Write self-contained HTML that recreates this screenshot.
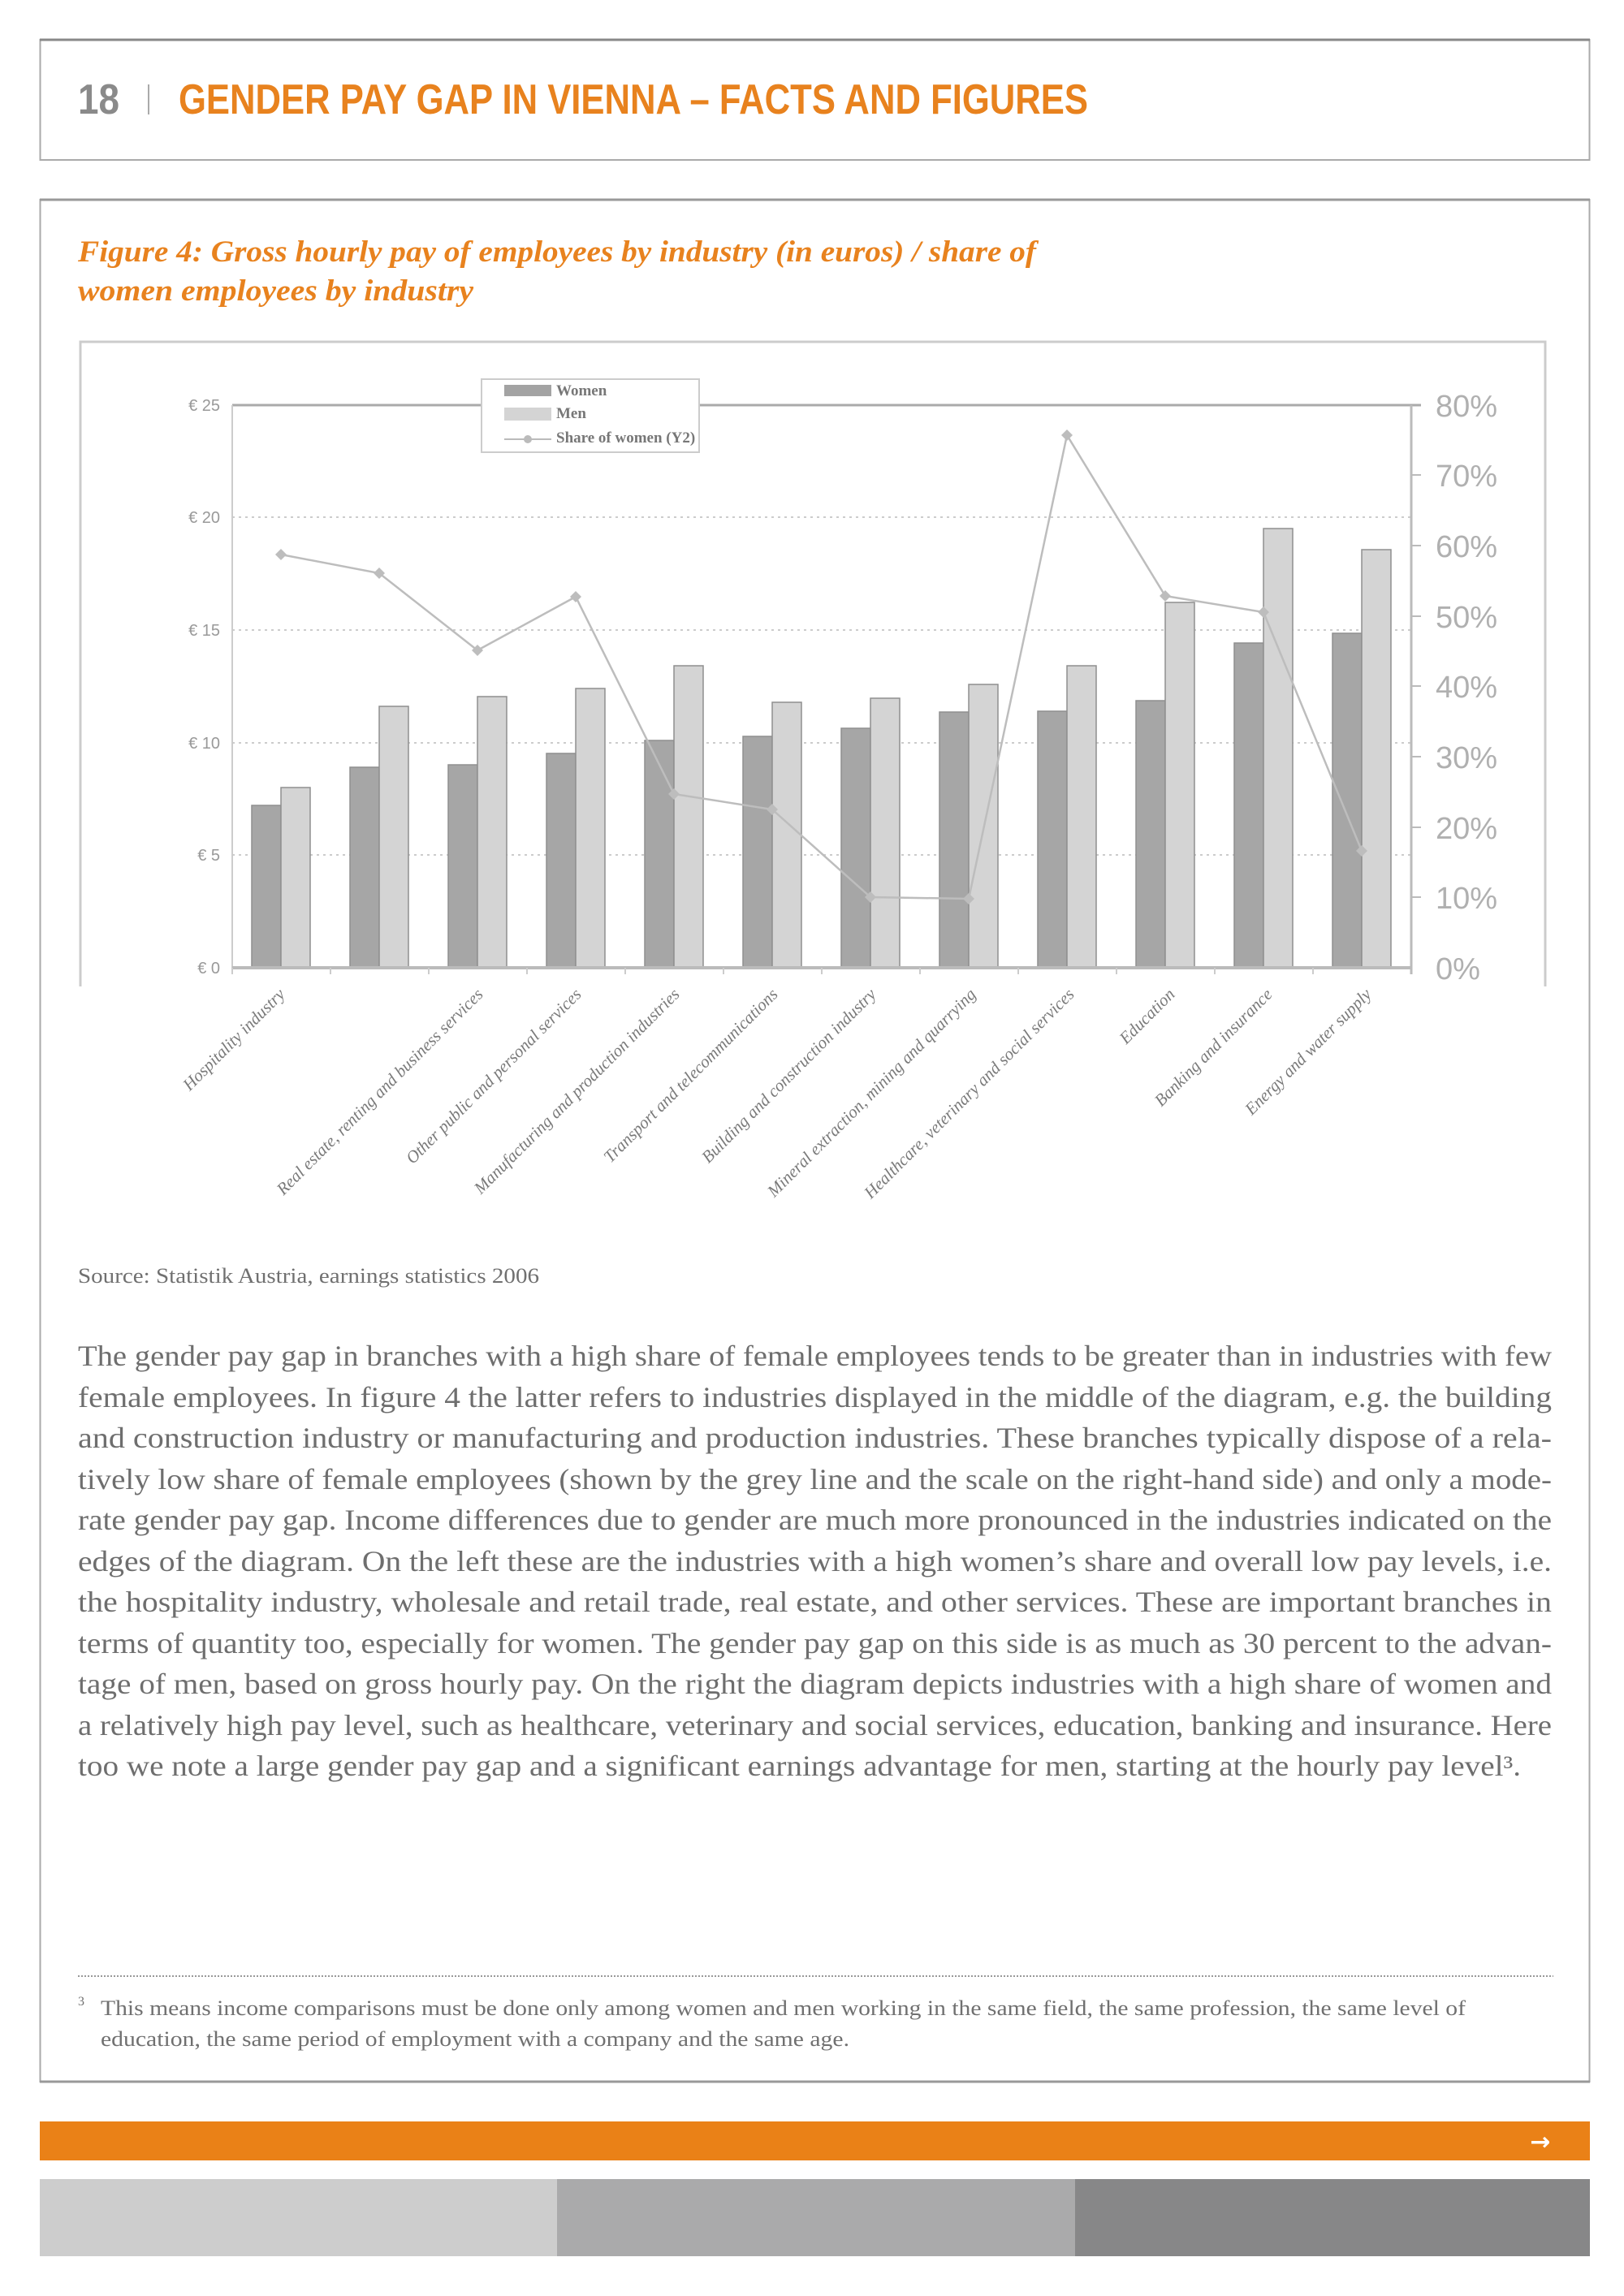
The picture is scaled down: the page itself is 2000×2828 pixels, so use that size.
<!DOCTYPE html>
<html><head><meta charset="utf-8"><style>html,body{margin:0;padding:0;background:#fff}svg{display:block}</style></head>
<body>
<svg width="2000" height="2828" viewBox="0 0 2000 2828" xmlns="http://www.w3.org/2000/svg">
<!-- header box -->
<rect x="49.5" y="49" width="1908" height="148" fill="#fff" stroke="#aaa" stroke-width="2"/>
<line x1="49" y1="49" x2="1958" y2="49" stroke="#888" stroke-width="3"/>
<text x="96" y="140" font-family="Liberation Sans Narrow, Liberation Sans, sans-serif" font-weight="bold" font-size="52" fill="#8a8a8a" textLength="51" lengthAdjust="spacingAndGlyphs">18</text>
<line x1="183" y1="104" x2="183" y2="141" stroke="#aaa" stroke-width="2"/>
<text x="220" y="140" font-family="Liberation Sans Narrow, Liberation Sans, sans-serif" font-weight="bold" font-size="52" fill="#e8821e" textLength="1120" lengthAdjust="spacingAndGlyphs">GENDER PAY GAP IN VIENNA – FACTS AND FIGURES</text>

<!-- main box -->
<rect x="49.5" y="246" width="1908" height="2318" fill="#fff" stroke="#aaa" stroke-width="2"/>
<line x1="49" y1="246" x2="1958" y2="246" stroke="#999" stroke-width="3"/>
<line x1="49" y1="2564" x2="1958" y2="2564" stroke="#999" stroke-width="3"/>

<g font-family="Liberation Serif, serif" font-style="italic" font-weight="bold" font-size="37" fill="#e8821e">
<text x="96" y="322" textLength="1180" lengthAdjust="spacingAndGlyphs">Figure 4: Gross hourly pay of employees by industry (in euros) / share of</text>
<text x="96" y="370" textLength="487" lengthAdjust="spacingAndGlyphs">women employees by industry</text>
</g>

<!-- chart frame -->
<path d="M99,1215 V421 H1903 V1215" fill="none" stroke="#ccc" stroke-width="3"/>

<!-- gridlines -->
<g stroke="#ccc" stroke-width="2" stroke-dasharray="3,5">
<line x1="286" y1="637" x2="1738" y2="637"/>
<line x1="286" y1="776" x2="1738" y2="776"/>
<line x1="286" y1="915" x2="1738" y2="915"/>
<line x1="286" y1="1053" x2="1738" y2="1053"/>
</g>
<line x1="286" y1="499" x2="1750" y2="499" stroke="#aaa" stroke-width="3"/>
<line x1="286" y1="499" x2="286" y2="1192" stroke="#ccc" stroke-width="2"/>
<line x1="1738" y1="499" x2="1738" y2="1200" stroke="#bbb" stroke-width="3"/>
<g stroke="#bbb" stroke-width="2">
<line x1="1738" y1="585" x2="1750" y2="585"/><line x1="1738" y1="672" x2="1750" y2="672"/>
<line x1="1738" y1="759" x2="1750" y2="759"/><line x1="1738" y1="845" x2="1750" y2="845"/>
<line x1="1738" y1="932" x2="1750" y2="932"/><line x1="1738" y1="1019" x2="1750" y2="1019"/>
<line x1="1738" y1="1105" x2="1750" y2="1105"/>
</g>

<!-- bars -->
<g stroke="#8f8f8f" stroke-width="1.5">
<rect x="310" y="992" width="36" height="200" fill="#a6a6a6"/><rect x="346" y="970" width="36" height="222" fill="#d4d4d4"/>
<rect x="431" y="945" width="36" height="247" fill="#a6a6a6"/><rect x="467" y="870" width="36" height="322" fill="#d4d4d4"/>
<rect x="552" y="942" width="36" height="250" fill="#a6a6a6"/><rect x="588" y="858" width="36" height="334" fill="#d4d4d4"/>
<rect x="673" y="928" width="36" height="264" fill="#a6a6a6"/><rect x="709" y="848" width="36" height="344" fill="#d4d4d4"/>
<rect x="794" y="912" width="36" height="280" fill="#a6a6a6"/><rect x="830" y="820" width="36" height="372" fill="#d4d4d4"/>
<rect x="915" y="907" width="36" height="285" fill="#a6a6a6"/><rect x="951" y="865" width="36" height="327" fill="#d4d4d4"/>
<rect x="1036" y="897" width="36" height="295" fill="#a6a6a6"/><rect x="1072" y="860" width="36" height="332" fill="#d4d4d4"/>
<rect x="1157" y="877" width="36" height="315" fill="#a6a6a6"/><rect x="1193" y="843" width="36" height="349" fill="#d4d4d4"/>
<rect x="1278" y="876" width="36" height="316" fill="#a6a6a6"/><rect x="1314" y="820" width="36" height="372" fill="#d4d4d4"/>
<rect x="1399" y="863" width="36" height="329" fill="#a6a6a6"/><rect x="1435" y="742" width="36" height="450" fill="#d4d4d4"/>
<rect x="1520" y="792" width="36" height="400" fill="#a6a6a6"/><rect x="1556" y="651" width="36" height="541" fill="#d4d4d4"/>
<rect x="1641" y="780" width="36" height="412" fill="#a6a6a6"/><rect x="1677" y="677" width="36" height="515" fill="#d4d4d4"/>
</g>
<line x1="286" y1="1192" x2="1738" y2="1192" stroke="#bbb" stroke-width="4"/>
<g stroke="#ccc" stroke-width="2">
<line x1="286" y1="1192" x2="286" y2="1200"/><line x1="407" y1="1192" x2="407" y2="1200"/><line x1="528" y1="1192" x2="528" y2="1200"/>
<line x1="649" y1="1192" x2="649" y2="1200"/><line x1="770" y1="1192" x2="770" y2="1200"/><line x1="891" y1="1192" x2="891" y2="1200"/>
<line x1="1012" y1="1192" x2="1012" y2="1200"/><line x1="1133" y1="1192" x2="1133" y2="1200"/><line x1="1254" y1="1192" x2="1254" y2="1200"/>
<line x1="1375" y1="1192" x2="1375" y2="1200"/><line x1="1496" y1="1192" x2="1496" y2="1200"/><line x1="1617" y1="1192" x2="1617" y2="1200"/>
</g>

<!-- share line -->
<polyline fill="none" stroke="#bdbdbd" stroke-width="2.5" points="346,683 467,706 588,801 709,735 830,978 951,997 1072,1105 1193,1107 1314,536 1435,734 1556,754 1677,1048"/>
<g fill="#bdbdbd">
<path d="M346,676l7,7-7,7-7-7z"/><path d="M467,699l7,7-7,7-7-7z"/><path d="M588,794l7,7-7,7-7-7z"/><path d="M709,728l7,7-7,7-7-7z"/>
<path d="M830,971l7,7-7,7-7-7z"/><path d="M951,990l7,7-7,7-7-7z"/><path d="M1072,1098l7,7-7,7-7-7z"/><path d="M1193,1100l7,7-7,7-7-7z"/>
<path d="M1314,529l7,7-7,7-7-7z"/><path d="M1435,727l7,7-7,7-7-7z"/><path d="M1556,747l7,7-7,7-7-7z"/><path d="M1677,1041l7,7-7,7-7-7z"/>
</g>

<!-- left axis labels -->
<g font-family="Liberation Sans Narrow, Liberation Sans, sans-serif" font-size="20" fill="#999" text-anchor="end">
<text x="271" y="506">€ 25</text><text x="271" y="644">€ 20</text><text x="271" y="783">€ 15</text>
<text x="271" y="922">€ 10</text><text x="271" y="1060">€ 5</text><text x="271" y="1199">€ 0</text>
</g>
<!-- right axis labels -->
<g font-family="Liberation Sans, sans-serif" font-size="38" fill="#b0b0b0">
<text x="1768" y="513">80%</text><text x="1768" y="599">70%</text><text x="1768" y="686">60%</text>
<text x="1768" y="773">50%</text><text x="1768" y="859">40%</text><text x="1768" y="946">30%</text>
<text x="1768" y="1033">20%</text><text x="1768" y="1119">10%</text><text x="1768" y="1206">0%</text>
</g>

<!-- legend -->
<rect x="593" y="467" width="268" height="90" fill="#fff" stroke="#ccc" stroke-width="2"/>
<rect x="621" y="474" width="58" height="14" fill="#a3a3a3"/>
<rect x="621" y="502" width="58" height="16" fill="#d4d4d4"/>
<line x1="621" y1="541" x2="679" y2="541" stroke="#bbb" stroke-width="2"/>
<circle cx="650" cy="541" r="5" fill="#bbb"/>
<g font-family="Liberation Serif, serif" font-weight="bold" font-size="19" fill="#777">
<text x="685" y="487">Women</text><text x="685" y="515">Men</text><text x="685" y="545">Share of women (Y2)</text>
</g>

<!-- category labels -->
<g font-family="Liberation Serif, serif" font-style="italic" font-size="21" fill="#7a7a7a" text-anchor="end">
<text transform="translate(352,1226) rotate(-45)">Hospitality industry</text>
<text transform="translate(596,1226) rotate(-45)">Real estate, renting and business services</text>
<text transform="translate(717,1226) rotate(-45)">Other public and personal services</text>
<text transform="translate(838,1226) rotate(-45)">Manufacturing and production industries</text>
<text transform="translate(959,1226) rotate(-45)">Transport and telecommunications</text>
<text transform="translate(1080,1226) rotate(-45)">Building and construction industry</text>
<text transform="translate(1203,1226) rotate(-45)">Mineral extraction, mining and quarrying</text>
<text transform="translate(1324,1226) rotate(-45)">Healthcare, veterinary and social services</text>
<text transform="translate(1448,1226) rotate(-45)">Education</text>
<text transform="translate(1568,1226) rotate(-45)">Banking and insurance</text>
<text transform="translate(1690,1226) rotate(-45)">Energy and water supply</text>
</g>

<text x="96" y="1580" font-family="Liberation Serif, serif" font-size="26" fill="#707070" textLength="568" lengthAdjust="spacingAndGlyphs">Source: Statistik Austria, earnings statistics 2006</text>

<!-- paragraph -->
<g font-family="Liberation Serif, serif" font-size="36" fill="#6e6e6e">
<text x="96" y="1682" textLength="1815" lengthAdjust="spacingAndGlyphs">The gender pay gap in branches with a high share of female employees tends to be greater than in industries with few</text>
<text x="96" y="1733" textLength="1815" lengthAdjust="spacingAndGlyphs">female employees. In figure 4 the latter refers to industries displayed in the middle of the diagram, e.g. the building</text>
<text x="96" y="1783" textLength="1815" lengthAdjust="spacingAndGlyphs">and construction industry or manufacturing and production industries. These branches typically dispose of a rela-</text>
<text x="96" y="1834" textLength="1815" lengthAdjust="spacingAndGlyphs">tively low share of female employees (shown by the grey line and the scale on the right-hand side) and only a mode-</text>
<text x="96" y="1884" textLength="1815" lengthAdjust="spacingAndGlyphs">rate gender pay gap. Income differences due to gender are much more pronounced in the industries indicated on the</text>
<text x="96" y="1935" textLength="1815" lengthAdjust="spacingAndGlyphs">edges of the diagram. On the left these are the industries with a high women’s share and overall low pay levels, i.e.</text>
<text x="96" y="1985" textLength="1815" lengthAdjust="spacingAndGlyphs">the hospitality industry, wholesale and retail trade, real estate, and other services. These are important branches in</text>
<text x="96" y="2036" textLength="1815" lengthAdjust="spacingAndGlyphs">terms of quantity too, especially for women. The gender pay gap on this side is as much as 30 percent to the advan-</text>
<text x="96" y="2086" textLength="1815" lengthAdjust="spacingAndGlyphs">tage of men, based on gross hourly pay. On the right the diagram depicts industries with a high share of women and</text>
<text x="96" y="2137" textLength="1815" lengthAdjust="spacingAndGlyphs">a relatively high pay level, such as healthcare, veterinary and social services, education, banking and insurance. Here</text>
<text x="96" y="2187" textLength="1777" lengthAdjust="spacingAndGlyphs">too we note a large gender pay gap and a significant earnings advantage for men, starting at the hourly pay level³.</text>
</g>

<!-- footnote -->
<line x1="96" y1="2434" x2="1913" y2="2434" stroke="#999" stroke-width="2" stroke-dasharray="2,2"/>
<g font-family="Liberation Serif, serif" font-size="26" fill="#707070">
<text x="96" y="2470" font-size="16">3</text>
<text x="124" y="2482" textLength="1681" lengthAdjust="spacingAndGlyphs">This means income comparisons must be done only among women and men working in the same field, the same profession, the same level of</text>
<text x="124" y="2520" textLength="922" lengthAdjust="spacingAndGlyphs">education, the same period of employment with a company and the same age.</text>
</g>

<!-- bottom bars -->
<rect x="49" y="2613" width="1909" height="48" fill="#ea8117"/>
<text x="1897" y="2648" font-family="DejaVu Sans, sans-serif" font-weight="bold" font-size="30" fill="#fff" text-anchor="middle">→</text>
<rect x="49" y="2684" width="637" height="95" fill="#cdcdcd"/>
<rect x="686" y="2684" width="638" height="95" fill="#aaaaab"/>
<rect x="1324" y="2684" width="634" height="95" fill="#878788"/>
</svg>
</body></html>
